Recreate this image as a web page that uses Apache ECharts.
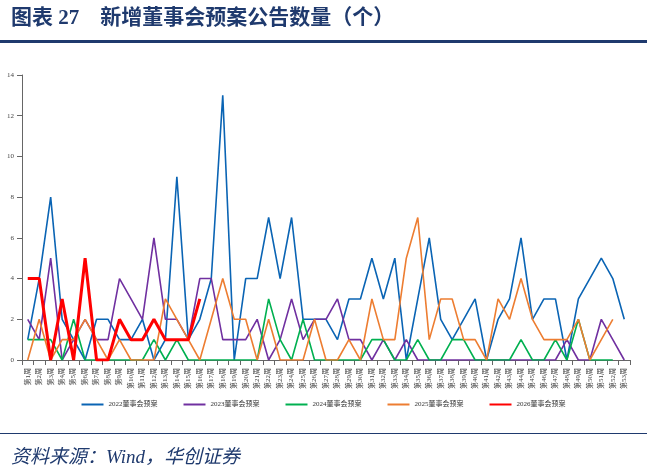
<!DOCTYPE html>
<html>
<head>
<meta charset="utf-8">
<script src="https://cdn.jsdelivr.net/npm/echarts@6/dist/echarts.min.js"></script>
<style>
body { margin: 0; background: #fff; }
#grid { width: 647px; height: 474px; }
</style>
</head>
<body>
<div id="grid"></div>
<script>
let weeks = [];
for (let i = 1; i <= 53; i++) {
    weeks.push('第' + i + '周');
}

let y2022 = [1, 4, 8, 2, 1, 0, 2, 2, 1, 1, 2, 0, 1, 9, 1, 2, 4, 13, 0, 4, 4, 7, 4, 7, 2, 2, 2, 1, 3, 3, 5, 3, 5, 0, 3, 6, 2, 1, 2, 3, 0, 2, 3, 6, 2, 3, 3, 0, 3, 4, 5, 4, 2];
let y2023 = [2, 1, 5, 0, 1, 2, 1, 1, 4, 3, 2, 6, 2, 2, 1, 4, 4, 1, 1, 1, 2, 0, 1, 3, 1, 2, 2, 3, 1, 1, 0, 1, 0, 1, 0, 0, 0, 0, 0, 0, 0, 0, 0, 0, 0, 0, 0, 1, 0, 0, 2, 1, 0];
let y2024 = [1, 1, 1, 0, 2, 0, 0, 0, 0, 0, 0, 1, 0, 1, 0, 0, 0, 0, 0, 0, 0, 3, 1, 0, 2, 0, 0, 0, 0, 0, 1, 1, 0, 0, 1, 0, 0, 1, 1, 0, 0, 0, 0, 1, 0, 0, 1, 0, 2, 0, 0, 0];
let y2025 = [0, 2, 0, 1, 1, 2, 1, 0, 1, 0, 0, 0, 3, 2, 1, 0, 2, 4, 2, 2, 0, 2, 0, 0, 0, 2, 0, 0, 1, 0, 3, 1, 1, 5, 7, 1, 3, 3, 1, 1, 0, 3, 2, 4, 2, 1, 1, 1, 2, 0, 1, 2];
let y2026 = [4, 4, 0, 3, 0, 5, 0, 0, 2, 1, 1, 2, 1, 1, 1, 3];

let names = ['2022董事会预案', '2023董事会预案', '2024董事会预案', '2025董事会预案', '2026董事会预案'];
let colors = ['#0a64b4', '#7030a0', '#00b050', '#ed7d31', '#ff0000'];
let values = [y2022, y2023, y2024, y2025, y2026];

let series = values.map(function (d, i) {
    return {
        name: names[i],
        type: 'line',
        data: d,
        showSymbol: false,
        lineStyle: { width: i === 4 ? 3 : 1.6, color: colors[i] },
        itemStyle: { color: colors[i] },
        z: i === 4 ? 10 : 2
    };
});

option = {
    animation: false,
    textStyle: { fontFamily: 'Liberation Serif, Noto Sans CJK SC' },
    title: [{
        text: '图表 27    新增董事会预案公告数量（个）',
        left: 6,
        top: 3,
        textStyle: { fontSize: 21, fontWeight: 'bold', color: '#1f3a6e', fontFamily: 'Liberation Serif, Noto Sans CJK SC' }
    }, {
        text: '资料来源：Wind，华创证券',
        left: 6,
        top: 443,
        textStyle: { fontSize: 19, fontWeight: 'normal', fontStyle: 'italic', color: '#1f3a6e', fontFamily: 'Liberation Serif, Noto Sans CJK SC' }
    }],
    graphic: [
        { type: 'rect', shape: { x: 0, y: 40, width: 647, height: 3 }, style: { fill: '#1f3a6e' } },
        { type: 'rect', shape: { x: 0, y: 433, width: 647, height: 1 }, style: { fill: '#1f3a6e' } }
    ],
    legend: {
        data: names,
        bottom: 61,
        left: 'center',
        itemWidth: 22,
        itemHeight: 2,
        itemGap: 26,
        icon: 'rect',
        textStyle: { fontSize: 7, color: '#333' }
    },
    grid: { left: 22, right: 17, top: 75, bottom: 114 },
    xAxis: {
        type: 'category',
        data: weeks,
        boundaryGap: true,
        axisLine: { lineStyle: { color: '#666' } },
        axisTick: { show: true, lineStyle: { color: '#666' } },
        axisLabel: { rotate: 90, interval: 0, fontSize: 7, color: '#444' }
    },
    yAxis: {
        type: 'value',
        min: 0,
        max: 14,
        interval: 2,
        splitLine: { show: false },
        axisLine: { show: true, lineStyle: { color: '#666' } },
        axisTick: { show: true, lineStyle: { color: '#666' } },
        axisLabel: { fontSize: 7, color: '#444' }
    },
    series: series
};

let myChart = echarts.init(document.getElementById('grid'));
myChart.setOption(option);
</script>
</body>
</html>
